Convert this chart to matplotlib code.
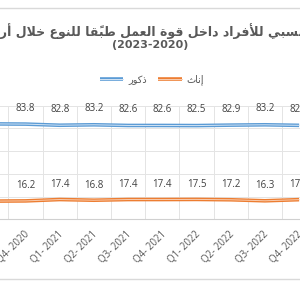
import matplotlib
matplotlib.use('Agg')
import matplotlib.pyplot as plt
from matplotlib.lines import Line2D
from matplotlib.legend_handler import HandlerTuple
from matplotlib.transforms import ScaledTranslation
import numpy as np

# data (visible window of the chart: Q3-2020 .. Q4-2022)
quarters = ['Q3- 2020', 'Q4- 2020', 'Q1- 2021', 'Q2- 2021', 'Q3- 2021',
            'Q4- 2021', 'Q1- 2022', 'Q2- 2022', 'Q3- 2022', 'Q4- 2022']
males = [84.0, 83.8, 82.8, 83.2, 82.6, 82.6, 82.5, 82.9, 83.2, 82.7]
females = [16.0, 16.2, 17.4, 16.8, 17.4, 17.4, 17.5, 17.2, 16.3, 17.3]

title_ar = 'التوزيع النسبي للأفراد داخل قوة العمل طبقًا للنوع خلال أربع سنوات'
title_years = '(2023-2020)'
lbl_male = 'ذكور'
lbl_female = 'إناث'


# --- minimal arabic shaping (matplotlib has no bidi / joining) ---
def _four(b):
    return (b, b + 1, b + 2, b + 3)

def _two(b):
    return (b, b + 1)

AR_FORMS = {
    '\u0622': _two(0xFE81), '\u0623': _two(0xFE83), '\u0625': _two(0xFE87),
    '\u0627': _two(0xFE8D), '\u0628': _four(0xFE8F), '\u0629': _two(0xFE93),
    '\u062A': _four(0xFE95), '\u062B': _four(0xFE99), '\u062C': _four(0xFE9D),
    '\u062D': _four(0xFEA1), '\u062E': _four(0xFEA5), '\u062F': _two(0xFEA9),
    '\u0630': _two(0xFEAB), '\u0631': _two(0xFEAD), '\u0632': _two(0xFEAF),
    '\u0633': _four(0xFEB1), '\u0634': _four(0xFEB5), '\u0635': _four(0xFEB9),
    '\u0636': _four(0xFEBD), '\u0637': _four(0xFEC1), '\u0638': _four(0xFEC5),
    '\u0639': _four(0xFEC9), '\u063A': _four(0xFECD), '\u0641': _four(0xFED1),
    '\u0642': _four(0xFED5), '\u0643': _four(0xFED9), '\u0644': _four(0xFEDD),
    '\u0645': _four(0xFEE1), '\u0646': _four(0xFEE5), '\u0647': _four(0xFEE9),
    '\u0648': _two(0xFEED), '\u0649': _two(0xFEEF), '\u064A': _four(0xFEF1),
}
LAM_ALEF = {'\u0622': 0xFEF5, '\u0623': 0xFEF7, '\u0625': 0xFEF9, '\u0627': 0xFEFB}


def shape_ar(text):
    chars = list(text)
    n = len(chars)
    is_mark = lambda c: '\u064B' <= c <= '\u0652'
    out = []
    i = 0
    while i < n:
        c = chars[i]
        if is_mark(c):
            out[-1] += c
            i += 1
            continue
        if c not in AR_FORMS:
            out.append(c)
            i += 1
            continue
        j = i - 1
        while j >= 0 and is_mark(chars[j]):
            j -= 1
        p = chars[j] if j >= 0 else None
        jp = p in AR_FORMS and len(AR_FORMS[p]) == 4
        k = i + 1
        while k < n and is_mark(chars[k]):
            k += 1
        nxt = chars[k] if k < n else None
        if c == '\u0644' and nxt in LAM_ALEF:
            out.append(chr(LAM_ALEF[nxt] + (1 if jp else 0)))
            i = k + 1
            continue
        f = AR_FORMS[c]
        jn = len(f) == 4 and nxt in AR_FORMS
        if jp and jn:
            g = f[3]
        elif jp:
            g = f[1]
        elif jn:
            g = f[2]
        else:
            g = f[0]
        out.append(chr(g))
        i += 1
    return ''.join(reversed(out))


W, H = 300, 296
fig = plt.figure(figsize=(W / 100, H / 100), dpi=100)

# the plot area is wider than the picture (chart is cropped left and right)
x0, step = -8.7, 34.2
left_px = x0 - step / 2
width_px = step * len(quarters)
ax = fig.add_axes([left_px / W, (H - 219.3) / H, width_px / W, (219.3 - 105.7) / H])

x = np.arange(len(quarters))
blue, orange = '#5B9BD5', '#ED7D31'
l1, = ax.plot(x, males, color=blue, lw=2.6, solid_capstyle='butt')
l1i, = ax.plot(x, males, color='#D3E4F4', lw=0.7)
l2, = ax.plot(x, females, color=orange, lw=2.6, solid_capstyle='butt')
l2i, = ax.plot(x, females, color='#F9CDB0', lw=0.7)

for xi, v in zip(x, males):
    ax.annotate(f'{v:.1f}', (xi, v), xytext=(0, 11.5), textcoords='offset points',
                ha='center', va='center', fontsize=7, color='#404040', family='Open Sans')
for xi, v in zip(x, females):
    ax.annotate(f'{v:.1f}', (xi, v), xytext=(0, 10.8), textcoords='offset points',
                ha='center', va='center', fontsize=7, color='#404040', family='Open Sans')

ax.set_xlim(-0.5, len(quarters) - 0.5)
ax.set_ylim(0, 100)
ax.set_yticks(np.arange(0, 101, 20))
ax.set_yticklabels([])
ax.set_xticks(x)
ax.set_xticklabels(quarters, rotation=45, ha='right', fontsize=7,
                   color='#595959', family='Open Sans')
ax.set_xticks(x + 0.5, minor=True)
ax.grid(True, axis='y', color='#E4E4E4', lw=0.7)
ax.grid(True, axis='x', which='minor', color='#E4E4E4', lw=0.7)
ax.tick_params(which='both', length=0)
ax.tick_params(axis='x', pad=7)
for lab in ax.get_xticklabels():
    lab.set_transform(lab.get_transform() + ScaledTranslation(0.06, 0, fig.dpi_scale_trans))
for s in ['left', 'right', 'top']:
    ax.spines[s].set_visible(False)
ax.spines['bottom'].set_color('#D0D0D0')
ax.spines['bottom'].set_linewidth(0.8)
ax.set_axisbelow(True)

# titles
fig.text(0.5, 1 - 31 / H, shape_ar(title_ar), ha='center', va='center',
         fontsize=9.0, fontweight='bold', color='#595959', family='DejaVu Sans')
fig.text(0.5, 1 - 45.5 / H, title_years, ha='center', va='center',
         fontsize=7.9, fontweight='bold', color='#595959', family='DejaVu Sans')

fig.legend([(l1, l1i), (l2, l2i)], [shape_ar(lbl_male), shape_ar(lbl_female)],
           handler_map={tuple: HandlerTuple(ndivide=1)},
           loc='center', bbox_to_anchor=(152 / W, 1 - 80 / H), ncol=2,
           frameon=False, handlelength=2.4, columnspacing=1.2,
           handletextpad=0.5, labelcolor='#595959', prop={'family': 'DejaVu Sans', 'size': 7})

# outer chart border (cropped)
for yb in (8.3, 279):
    fig.add_artist(Line2D([0, 1], [1 - yb / H, 1 - yb / H], transform=fig.transFigure,
                          color='#D9D9D9', lw=1))

fig.savefig('out.png', dpi=100)
